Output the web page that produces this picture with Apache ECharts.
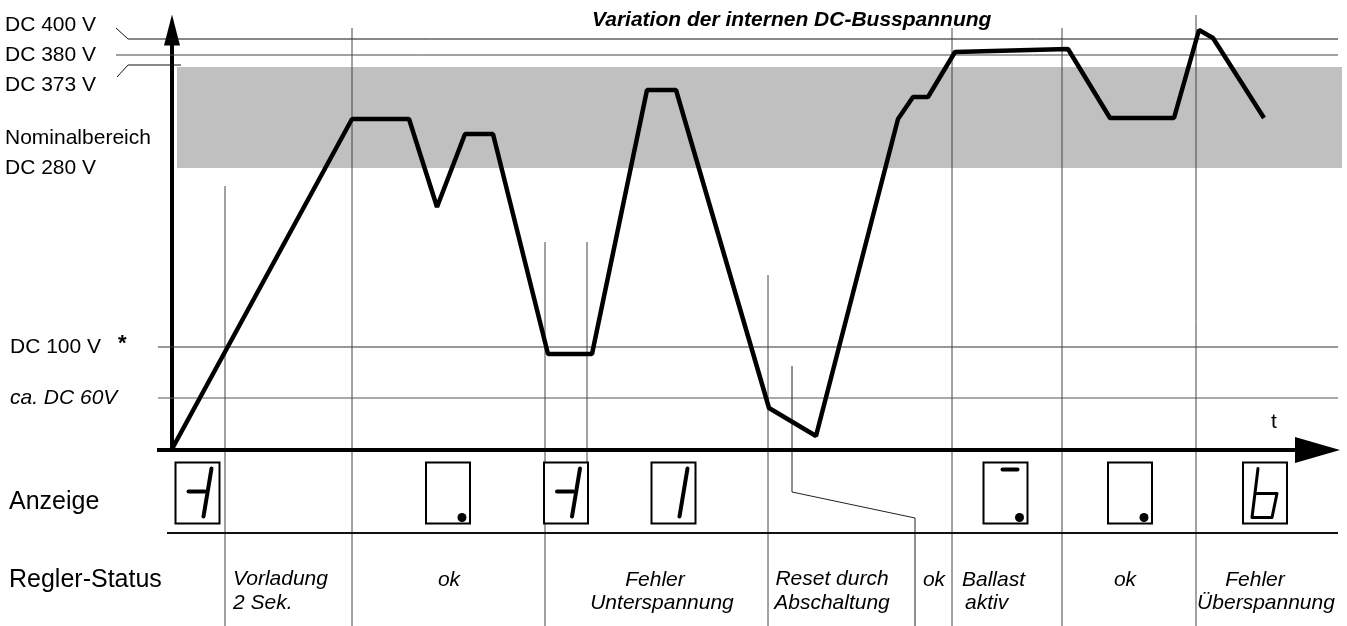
<!DOCTYPE html>
<html>
<head>
<meta charset="utf-8">
<script src="https://cdn.jsdelivr.net/npm/echarts@6/dist/echarts.min.js"></script>
<style>
html,body{margin:0;padding:0;background:#fff;}
#main{width:1347px;height:626px;}
</style>
</head>
<body>
<div id="main"></div>
<script>
// Zeit- und Pegelachse sind schematisch (keine echte Skala)
var kurveT = [0, 180, 237, 265, 293, 321, 376, 420, 475, 504, 597, 644, 726, 741, 756, 783, 896, 938, 1002, 1027, 1041, 1092];
var kurveU = [1, 331, 331, 243, 316, 316, 96, 96, 360, 360, 42, 14, 331, 353, 353, 398, 401, 332, 332, 420, 412, 332];

// Nominalbereich (grau)
var bandVon = 282, bandBis = 383;
var bandT = [5, 1170];

// Bezugslinien DC 400 / 380 / 373 / 100 / 60 V
var linie400T = [-56, -44, 1166], linie400U = [422, 411, 411];
var linie380T = [-56, 1166],      linie380U = [395, 395];
var linie373T = [-55, -44, 9],    linie373U = [373, 385, 385];
var linie100T = [-14, 1166],      linie100U = [103, 103];
var linie60T  = [-14, 1166],      linie60U  = [52, 52];

// Zeitachse (t)
var zeitachseT = [-15, 1168];

// senkrechte Trennlinien
var trennT     = [53, 180, 373, 415, 596, 780, 890, 1024];
var trennOben  = [264, 422, 208, 208, 175, 422, 422, 435];
var trennUnten = [-176, -176, -176, -70, -176, -176, -176, -176];
var resetT = [620, 620, 743, 743], resetU = [84, -42, -68, -176];

// Zeile unter der Anzeige
var zeileT = [-5, 1166], zeileU = [-83, -83];

// 7-Segment-Anzeigen
var anzeigeT   = [25.5, 276, 394, 501.5, 833.5, 958, 1093];
var anzeigeTyp = ['minus1', 'dot', 'minus1', 'one', 'bardot', 'dot', 'b'];
var anzeigeZeile = -43;

var FONT = "'Liberation Sans', Arial, sans-serif";

function paare(t, u) {
    var res = [];
    for (var i = 0; i < t.length; i++) res.push([t[i], u[i]]);
    return res;
}

function duenneLinie(data, farbe) {
    return {
        type: 'line',
        data: data,
        showSymbol: false,
        symbol: 'none',
        clip: false,
        silent: true,
        z: 3,
        lineStyle: { color: farbe || '#333', width: 1 }
    };
}

var series = [];

// grauer Bereich
series.push({
    type: 'custom',
    data: [[bandT[0], bandBis, bandT[1], bandVon]],
    silent: true,
    z: 1,
    renderItem: function (params, api) {
        var a = api.coord([api.value(0), api.value(1)]);
        var b = api.coord([api.value(2), api.value(3)]);
        return {
            type: 'rect',
            shape: { x: a[0], y: a[1], width: b[0] - a[0], height: b[1] - a[1] },
            style: { fill: '#c0c0c0' }
        };
    }
});

series.push(duenneLinie(paare(linie400T, linie400U), '#111'));
series.push(duenneLinie(paare(linie380T, linie380U), '#444'));
series.push(duenneLinie(paare(linie373T, linie373U), '#111'));
series.push(duenneLinie(paare(linie100T, linie100U), '#333'));
series.push(duenneLinie(paare(linie60T, linie60U), '#555'));
for (var i = 0; i < trennT.length; i++) {
    series.push(duenneLinie([[trennT[i], trennOben[i]], [trennT[i], trennUnten[i]]], '#444'));
}
series.push(duenneLinie(paare(resetT, resetU), '#222'));
var zeile = duenneLinie(paare(zeileT, zeileU), '#111');
zeile.lineStyle.width = 2;
series.push(zeile);

// Zeitachse mit Pfeil
series.push({
    type: 'custom',
    data: [zeitachseT],
    silent: true,
    z: 4,
    renderItem: function (params, api) {
        var a = api.coord([api.value(0), 0]);
        var b = api.coord([api.value(1), 0]);
        return {
            type: 'group',
            children: [{
                type: 'line',
                shape: { x1: a[0], y1: a[1], x2: b[0] - 40, y2: b[1] },
                style: { stroke: '#000', lineWidth: 4 }
            }, {
                type: 'polygon',
                shape: { points: [[b[0], b[1]], [b[0] - 45, b[1] - 13], [b[0] - 45, b[1] + 13]] },
                style: { fill: '#000' }
            }]
        };
    }
});

// DC-Busspannung
series.push({
    type: 'line',
    data: paare(kurveT, kurveU),
    showSymbol: false,
    symbol: 'none',
    clip: false,
    silent: true,
    z: 5,
    lineStyle: { color: '#000', width: 4.5 }
});

// Anzeigen
series.push({
    type: 'custom',
    data: anzeigeT.map(function (t) { return [t]; }),
    silent: true,
    z: 6,
    renderItem: function (params, api) {
        var c = api.coord([api.value(0), anzeigeZeile]);
        var x0 = c[0] - 22, y0 = c[1] - 30.5;
        var typ = anzeigeTyp[params.dataIndex];
        var kinder = [{
            type: 'rect',
            shape: { x: x0, y: y0, width: 44, height: 61 },
            style: { fill: '#fff', stroke: '#000', lineWidth: 2 }
        }];
        function strich(pts, w) {
            kinder.push({
                type: 'polyline',
                shape: { points: pts.map(function (p) { return [x0 + p[0], y0 + p[1]]; }) },
                style: { stroke: '#000', lineWidth: w, lineCap: 'round', lineJoin: 'round', fill: null }
            });
        }
        function punkt(x, y) {
            kinder.push({ type: 'circle', shape: { cx: x0 + x, cy: y0 + y, r: 4.5 }, style: { fill: '#000' } });
        }
        if (typ == 'minus1') {
            strich([[13, 29], [29, 29]], 4);
            strich([[36, 6], [28, 54]], 4);
        } else if (typ == 'one') {
            strich([[36, 6], [28, 54]], 4);
        } else if (typ == 'dot') {
            punkt(36, 55);
        } else if (typ == 'bardot') {
            strich([[19, 7], [34, 7]], 4);
            punkt(36, 55);
        } else if (typ == 'b') {
            strich([[15, 6], [9, 55], [29, 55], [34, 31], [13, 31]], 3);
        }
        return { type: 'group', children: kinder };
    }
});

function text(x, y, s, opt) {
    opt = opt || {};
    return {
        type: 'text',
        x: x, y: y,
        silent: true,
        z: 10,
        style: {
            text: s,
            fill: '#000',
            font: (opt.style || '') + ' ' + (opt.size || 21) + 'px ' + FONT,
            textAlign: opt.align || 'left',
            textVerticalAlign: 'middle',
            lineHeight: 24
        }
    };
}

var graphic = [
    text(5, 25, 'DC 400 V'),
    text(5, 55, 'DC 380 V'),
    text(5, 85, 'DC 373 V'),
    text(5, 138, 'Nominalbereich'),
    text(5, 168, 'DC 280 V'),
    text(10, 347, 'DC 100 V'),
    text(118, 344, '*', { style: 'bold', size: 22 }),
    text(10, 398, 'ca. DC 60V', { style: 'italic' }),
    text(9, 502, 'Anzeige', { size: 25 }),
    text(9, 580, 'Regler-Status', { size: 25 }),
    text(592, 20, 'Variation der internen DC-Busspannung', { style: 'italic bold', size: 21 }),
    text(1274, 422, 't', { align: 'center' }),
    text(233, 591, 'Vorladung\n2 Sek.', { style: 'italic' }),
    text(449, 580, 'ok', { style: 'italic', align: 'center' }),
    text(655, 580, 'Fehler', { style: 'italic', align: 'center' }),
    text(662, 603, 'Unterspannung', { style: 'italic', align: 'center' }),
    text(832, 591, 'Reset durch\nAbschaltung', { style: 'italic', align: 'center' }),
    text(934, 580, 'ok', { style: 'italic', align: 'center' }),
    text(962, 580, 'Ballast', { style: 'italic' }),
    text(965, 603, 'aktiv', { style: 'italic' }),
    text(1125, 580, 'ok', { style: 'italic', align: 'center' }),
    text(1255, 580, 'Fehler', { style: 'italic', align: 'center' }),
    text(1266, 603, 'Überspannung', { style: 'italic', align: 'center' })
];

var myChart = echarts.init(document.getElementById('main'));
var option = {
    animation: false,
    backgroundColor: '#fff',
    grid: { left: 112, right: 5, top: 30, bottom: 176 },
    xAxis: {
        type: 'value',
        min: -60,
        max: 1170,
        splitLine: { show: false },
        axisTick: { show: false },
        axisLabel: { show: false },
        axisLine: { show: false }
    },
    yAxis: {
        type: 'value',
        min: 0,
        max: 420,
        splitLine: { show: false },
        axisTick: { show: false },
        axisLabel: { show: false },
        axisLine: {
            onZero: true,
            symbol: ['none', 'triangle'],
            symbolSize: [16, 31],
            lineStyle: { color: '#000', width: 4 }
        }
    },
    graphic: graphic,
    series: series
};
myChart.setOption(option);
</script>
</body>
</html>
